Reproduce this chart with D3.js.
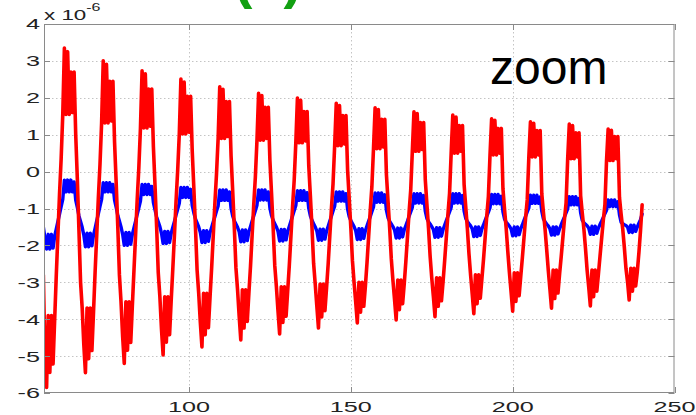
<!DOCTYPE html>
<html><head><meta charset="utf-8">
<script src="https://cdn.jsdelivr.net/npm/d3@7"></script>
<style>
body{margin:0;background:#fff}
svg{display:block}
text{font-family:"Liberation Sans",Arial,Helvetica,sans-serif}
</style>
</head><body>
<svg id="chart" width="696" height="415"></svg>
<script>
// ---- data ----
const xStart = 55, xStep = 0.5;
const redValues = [
-2.8, -5.03,
-5.85,-3.9,-5.44,-3.9,-5.21,-4.0,-2.8,-1.7,-0.6,0.35,1.55,3.35,1.55,3.25,1.55,2.7,1.6,2.7,1.0,-0.2,-1.6,-3.0,-3.7,-4.69,
-5.45,-3.7,-5.07,-3.7,-4.85,-3.8,-2.7,-1.7,-0.7,0.2,1.32,3.0,1.32,2.91,1.32,2.45,1.37,2.45,0.8,-0.3,-1.5,-2.8,-3.53,-4.47,
-5.2,-3.53,-4.84,-3.53,-4.63,-3.63,-2.67,-1.71,-0.75,0.11,1.18,2.73,1.18,2.65,1.18,2.24,1.23,2.24,0.67,-0.37,-1.5,-2.74,-3.39,-4.27,
-4.97,-3.39,-4.62,-3.39,-4.42,-3.49,-2.63,-1.72,-0.8,0.03,1.02,2.51,1.02,2.43,1.02,2.04,1.07,2.04,0.55,-0.45,-1.51,-2.67,-3.3,-4.09,
-4.75,-3.3,-4.42,-3.3,-4.23,-3.4,-2.6,-1.73,-0.85,-0.06,0.9,2.3,0.9,2.23,0.9,1.9,0.95,1.9,0.42,-0.52,-1.51,-2.61,-3.2,-3.92,
-4.56,-3.2,-4.24,-3.2,-4.06,-3.3,-2.57,-1.73,-0.9,-0.15,0.85,2.12,0.85,2.06,0.85,1.74,0.9,1.74,0.29,-0.59,-1.52,-2.55,-3.12,-3.78,
-4.4,-3.12,-4.09,-3.12,-3.92,-3.22,-2.53,-1.74,-0.95,-0.23,0.78,1.99,0.78,1.93,0.78,1.63,0.83,1.63,0.16,-0.66,-1.52,-2.49,-3.05,-3.65,
-4.24,-3.05,-3.94,-3.05,-3.77,-3.15,-2.5,-1.75,-1.0,-0.33,0.7,1.85,0.7,1.79,0.7,1.52,0.75,1.52,0.04,-0.74,-1.52,-2.42,-3.0,-3.53,
-4.1,-3.0,-3.81,-3.0,-3.65,-3.1,-2.47,-1.76,-1.05,-0.41,0.62,1.73,0.62,1.68,0.62,1.42,0.67,1.42,-0.09,-0.81,-1.53,-2.36,-2.94,-3.46,
-4.02,-2.94,-3.74,-2.94,-3.58,-3.04,-2.43,-1.77,-1.1,-0.5,0.55,1.62,0.55,1.57,0.55,1.33,0.6,1.33,-0.22,-0.88,-1.53,-2.3,-2.88,-3.38,
-3.93,-2.88,-3.65,-2.88,-3.5,-2.98,-2.4,-1.78,-1.15,-0.59,0.5,1.53,0.5,1.48,0.5,1.25,0.55,1.25,-0.35,-0.95,-1.54,-2.23,-2.8,-3.31,
-3.85,-2.8,-3.58,-2.8,-3.43,-2.9,-2.37,-1.78,-1.2,-0.67,0.45,1.43,0.45,1.39,0.45,1.17,0.5,1.17,-0.47,-1.03,-1.54,-2.17,-2.74,-3.25,
-3.78,-2.74,-3.52,-2.74,-3.36,-2.84,-2.33,-1.79,-1.25,-0.76,0.4,1.35,0.4,1.31,0.4,1.11,0.45,1.11,-0.6,-1.1,-1.55,-2.1,-2.67,-3.18,
-3.7,-2.67,-3.44,-2.67,-3.29,-2.77,-2.3,-1.8,-1.3,-0.85,0.35,1.29,0.35,1.25,0.35,1.05,0.4,1.05,-0.65,-1.12,-1.55,-2.08,-2.67,-3.13,
-3.64,-2.67,-3.39,-2.67,-3.24,-2.77,-2.28,-1.8,-1.32,-0.9,0.3,1.15,0.3,1.12,0.3,0.95,0.35,0.95,-0.7,-1.15,-1.55,-2.05,-2.62,-2.99,
-3.48,-2.62,-3.24,-2.62,-3.1,-2.72,-2.2,-1.6,-0.9
];
const blueValues = [
-1.5, -1.8,
-2.1,-1.7,-2.1,-1.7,-2.07,-1.75,-1.55,-1.35,-1.15,-0.95,-0.75,-0.23,-0.55,-0.23,-0.55,-0.23,-0.55,-0.28,-0.77,-0.97,-1.2,-1.35,-1.51,-1.72,
-2.04,-1.67,-2.04,-1.67,-2.01,-1.72,-1.53,-1.33,-1.14,-0.94,-0.75,-0.3,-0.55,-0.3,-0.55,-0.3,-0.55,-0.35,-0.77,-0.97,-1.19,-1.34,-1.5,-1.7,
-2.0,-1.65,-2.0,-1.65,-1.97,-1.7,-1.52,-1.34,-1.16,-0.98,-0.8,-0.35,-0.62,-0.35,-0.62,-0.35,-0.62,-0.4,-0.84,-1.04,-1.23,-1.36,-1.49,-1.67,
-1.95,-1.62,-1.95,-1.62,-1.92,-1.67,-1.51,-1.35,-1.18,-1.02,-0.86,-0.43,-0.7,-0.43,-0.7,-0.43,-0.7,-0.48,-0.92,-1.12,-1.28,-1.39,-1.5,-1.65,
-1.92,-1.6,-1.92,-1.6,-1.89,-1.65,-1.51,-1.36,-1.22,-1.07,-0.93,-0.5,-0.78,-0.5,-0.78,-0.5,-0.78,-0.55,-1.0,-1.2,-1.33,-1.42,-1.51,-1.63,
-1.9,-1.58,-1.9,-1.58,-1.87,-1.63,-1.49,-1.34,-1.2,-1.06,-0.91,-0.5,-0.77,-0.5,-0.77,-0.5,-0.77,-0.55,-0.99,-1.19,-1.32,-1.41,-1.5,-1.62,
-1.88,-1.57,-1.88,-1.57,-1.85,-1.62,-1.48,-1.34,-1.2,-1.06,-0.92,-0.52,-0.78,-0.52,-0.78,-0.52,-0.78,-0.57,-1.0,-1.2,-1.32,-1.41,-1.5,-1.61,
-1.86,-1.56,-1.86,-1.56,-1.83,-1.61,-1.48,-1.34,-1.21,-1.07,-0.94,-0.55,-0.8,-0.55,-0.8,-0.55,-0.8,-0.6,-1.02,-1.22,-1.33,-1.41,-1.49,-1.6,
-1.84,-1.55,-1.84,-1.55,-1.81,-1.6,-1.47,-1.34,-1.22,-1.09,-0.96,-0.58,-0.83,-0.58,-0.83,-0.58,-0.83,-0.63,-1.05,-1.25,-1.35,-1.42,-1.49,-1.58,
-1.8,-1.53,-1.8,-1.53,-1.77,-1.58,-1.46,-1.34,-1.21,-1.09,-0.97,-0.6,-0.85,-0.6,-0.85,-0.6,-0.85,-0.65,-1.07,-1.27,-1.36,-1.42,-1.49,-1.57,
-1.78,-1.52,-1.78,-1.52,-1.75,-1.57,-1.45,-1.33,-1.21,-1.09,-0.97,-0.6,-0.85,-0.6,-0.85,-0.6,-0.85,-0.65,-1.07,-1.27,-1.35,-1.41,-1.47,-1.55,
-1.76,-1.5,-1.76,-1.5,-1.73,-1.55,-1.44,-1.32,-1.21,-1.1,-0.98,-0.62,-0.87,-0.62,-0.87,-0.62,-0.87,-0.67,-1.09,-1.29,-1.37,-1.42,-1.48,-1.55,
-1.74,-1.5,-1.74,-1.5,-1.71,-1.55,-1.44,-1.32,-1.21,-1.09,-0.98,-0.64,-0.86,-0.64,-0.86,-0.64,-0.86,-0.69,-1.08,-1.28,-1.36,-1.42,-1.47,-1.55,
-1.72,-1.5,-1.72,-1.5,-1.69,-1.55,-1.44,-1.33,-1.23,-1.12,-1.01,-0.68,-0.9,-0.68,-0.9,-0.68,-0.9,-0.73,-1.12,-1.32,-1.38,-1.43,-1.47,-1.53,
-1.7,-1.48,-1.7,-1.48,-1.67,-1.53,-1.43,-1.34,-1.24,-1.14,-1.05,-0.77,-0.95,-0.77,-0.95,-0.77,-0.95,-0.82,-1.17,-1.37,-1.41,-1.44,-1.46,-1.5,
-1.65,-1.45,-1.65,-1.45,-1.62,-1.5,-1.4,-1.3,-1.15
];
const xDomain = [55.2, 250];
const yDomain = [-6, 4];
const xTickValues = [100, 150, 200, 250];
const yTickValues = [-6, -5, -4, -3, -2, -1, 0, 1, 2, 3, 4];
const exponentBase = "x 10";
const exponentPower = "-6";
const annotationText = "zoom";
const panelLabel = "(a)";

// ---- drawing ----
const svg = d3.select("#chart");
const L = 44, R = 674.5, T = 24, B = 393;
const x = d3.scaleLinear().domain(xDomain).range([L, R]);
const y = d3.scaleLinear().domain(yDomain).range([B, T]);
const grey = "#8a8a8a";
const labelScale = 1.68;

svg.append("rect").attr("width", 696).attr("height", 415).attr("fill", "#fff");

// grid
const grid = svg.append("g").attr("stroke", "#c4c4c4").attr("stroke-width", 1).attr("stroke-dasharray", "1.5,2.5");
grid.selectAll("line.gx").data(xTickValues.filter(v => v < xDomain[1])).join("line")
  .attr("x1", d => Math.round(x(d)) + 0.5).attr("x2", d => Math.round(x(d)) + 0.5)
  .attr("y1", T).attr("y2", B);
grid.selectAll("line.gy").data(yTickValues.filter(v => v > yDomain[0] && v < yDomain[1])).join("line")
  .attr("y1", d => Math.round(y(d)) + 0.5).attr("y2", d => Math.round(y(d)) + 0.5)
  .attr("x1", L).attr("x2", R);

// clip
svg.append("clipPath").attr("id", "plotclip").append("rect")
  .attr("x", L).attr("y", T).attr("width", R - L).attr("height", B - T);

const line = d3.line().x((d, i) => x(xStart + i * xStep)).y(d => y(d));
const plot = svg.append("g").attr("clip-path", "url(#plotclip)");
plot.append("path").datum(blueValues).attr("d", line)
  .attr("fill", "none").attr("stroke", "#0000ff").attr("stroke-width", 3.4)
  .attr("stroke-linejoin", "round").attr("stroke-linecap", "round");
plot.append("path").datum(redValues).attr("d", line)
  .attr("fill", "none").attr("stroke", "#ff0000").attr("stroke-width", 3.6)
  .attr("stroke-linejoin", "round").attr("stroke-linecap", "round");

// box + ticks
const ax = svg.append("g").attr("stroke", grey).attr("stroke-width", 1).attr("fill", "none");
ax.append("rect").attr("x", L + 0.5).attr("y", T + 0.5).attr("width", R - L - 1).attr("height", B - T - 1);
const tk = 6;
yTickValues.forEach(v => {
  const yy = Math.round(y(v)) + 0.5;
  ax.append("line").attr("x1", L).attr("x2", L + tk).attr("y1", yy).attr("y2", yy);
  ax.append("line").attr("x1", R - tk).attr("x2", R).attr("y1", yy).attr("y2", yy);
});
xTickValues.forEach(v => {
  const xx = Math.round(x(v)) + 0.5;
  ax.append("line").attr("x1", xx).attr("x2", xx).attr("y1", B).attr("y2", B - tk);
  ax.append("line").attr("x1", xx).attr("x2", xx).attr("y1", T).attr("y2", T + tk);
});

// tick labels
const lab = svg.append("g").attr("fill", "#222").attr("font-size", 15);
yTickValues.forEach(v => {
  lab.append("text").attr("text-anchor", "end")
    .attr("transform", `translate(${40},${y(v) + 5.4}) scale(${labelScale},1)`)
    .text(v);
});
xTickValues.forEach(v => {
  lab.append("text").attr("text-anchor", "middle")
    .attr("transform", `translate(${x(v)},${412}) scale(${labelScale},1)`)
    .text(v);
});

// exponent label
const ex = svg.append("text").attr("fill", "#222").attr("font-size", 14)
  .attr("transform", `translate(${L},19.5) scale(1.6,1)`);
ex.append("tspan").text(exponentBase);
ex.append("tspan").attr("dy", -9).attr("font-size", 10).text(exponentPower);

// annotation
svg.append("text").attr("x", 490).attr("y", 83.5).attr("font-size", 48).attr("fill", "#000").text(annotationText);

// green panel label, only its lower edge shows at the top edge (as in the reference)
svg.append("text").attr("x", 268).attr("y", -3).attr("text-anchor", "middle")
  .attr("font-size", 56).attr("font-weight", "bold").attr("fill", "#12a012").text(panelLabel);
</script>
</body></html>
